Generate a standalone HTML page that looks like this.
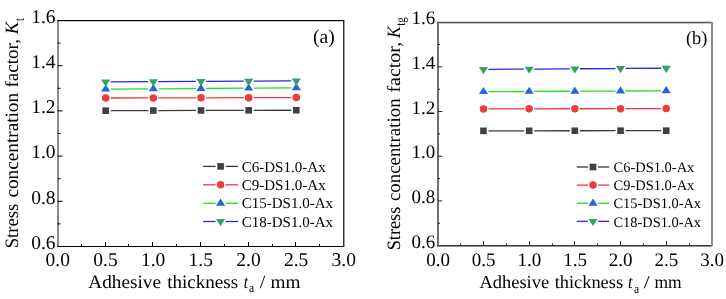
<!DOCTYPE html>
<html><head><meta charset="utf-8"><style>
html,body{margin:0;padding:0;background:#fff;}
body{width:726px;height:299px;overflow:hidden;}
svg{display:block;will-change:transform;}
text{font-family:"Liberation Serif", serif;fill:#000;text-rendering:geometricPrecision;}
</style></head><body>
<svg width="726" height="299" viewBox="0 0 726 299">
<rect width="726" height="299" fill="#fff"/>
<line x1="110.67" y1="110.66" x2="148.33" y2="110.57" stroke="#3a3a3a" stroke-width="1.3"/>
<line x1="158.33" y1="110.55" x2="196.00" y2="110.46" stroke="#3a3a3a" stroke-width="1.3"/>
<line x1="206.00" y1="110.44" x2="243.67" y2="110.35" stroke="#3a3a3a" stroke-width="1.3"/>
<line x1="253.67" y1="110.32" x2="291.33" y2="110.23" stroke="#3a3a3a" stroke-width="1.3"/>
<line x1="110.67" y1="98.01" x2="148.33" y2="97.92" stroke="#f03a3a" stroke-width="1.3"/>
<line x1="158.33" y1="97.89" x2="196.00" y2="97.80" stroke="#f03a3a" stroke-width="1.3"/>
<line x1="206.00" y1="97.78" x2="243.67" y2="97.69" stroke="#f03a3a" stroke-width="1.3"/>
<line x1="253.67" y1="97.67" x2="291.33" y2="97.58" stroke="#f03a3a" stroke-width="1.3"/>
<line x1="110.67" y1="89.17" x2="148.33" y2="88.90" stroke="#20e020" stroke-width="1.3"/>
<line x1="158.33" y1="88.83" x2="196.00" y2="88.56" stroke="#20e020" stroke-width="1.3"/>
<line x1="206.00" y1="88.49" x2="243.67" y2="88.22" stroke="#20e020" stroke-width="1.3"/>
<line x1="253.67" y1="88.15" x2="291.33" y2="87.88" stroke="#20e020" stroke-width="1.3"/>
<line x1="110.67" y1="81.94" x2="148.33" y2="81.72" stroke="#2828e8" stroke-width="1.3"/>
<line x1="158.33" y1="81.66" x2="196.00" y2="81.44" stroke="#2828e8" stroke-width="1.3"/>
<line x1="206.00" y1="81.38" x2="243.67" y2="81.15" stroke="#2828e8" stroke-width="1.3"/>
<line x1="253.67" y1="81.09" x2="291.33" y2="80.87" stroke="#2828e8" stroke-width="1.3"/>
<rect x="102.37" y="107.37" width="6.6" height="6.6" fill="#404040"/>
<rect x="150.03" y="107.26" width="6.6" height="6.6" fill="#404040"/>
<rect x="197.70" y="107.15" width="6.6" height="6.6" fill="#404040"/>
<rect x="245.37" y="107.03" width="6.6" height="6.6" fill="#404040"/>
<rect x="293.03" y="106.92" width="6.6" height="6.6" fill="#404040"/>
<circle cx="105.67" cy="98.02" r="3.75" fill="#ee3b3b"/>
<circle cx="153.33" cy="97.91" r="3.75" fill="#ee3b3b"/>
<circle cx="201.00" cy="97.79" r="3.75" fill="#ee3b3b"/>
<circle cx="248.67" cy="97.68" r="3.75" fill="#ee3b3b"/>
<circle cx="296.33" cy="97.57" r="3.75" fill="#ee3b3b"/>
<polygon points="101.07,91.60 110.27,91.60 105.67,84.40" fill="#2464dc"/>
<polygon points="148.73,91.26 157.93,91.26 153.33,84.06" fill="#2464dc"/>
<polygon points="196.40,90.93 205.60,90.93 201.00,83.73" fill="#2464dc"/>
<polygon points="244.07,90.59 253.27,90.59 248.67,83.39" fill="#2464dc"/>
<polygon points="291.73,90.25 300.93,90.25 296.33,83.05" fill="#2464dc"/>
<polygon points="101.07,79.57 110.27,79.57 105.67,86.77" fill="#34a066"/>
<polygon points="148.73,79.29 157.93,79.29 153.33,86.49" fill="#34a066"/>
<polygon points="196.40,79.01 205.60,79.01 201.00,86.21" fill="#34a066"/>
<polygon points="244.07,78.72 253.27,78.72 248.67,85.92" fill="#34a066"/>
<polygon points="291.73,78.44 300.93,78.44 296.33,85.64" fill="#34a066"/>
<rect x="57" y="21" width="287" height="1" fill="#d0d0d0"/><rect x="344" y="20" width="1" height="227" fill="#a0a0a0"/>
<rect x="57" y="20" width="2" height="227" fill="#8a8a8a"/>
<rect x="57" y="20" width="287" height="1" fill="#000"/>
<rect x="57" y="246" width="287" height="1" fill="#000"/>
<rect x="343" y="20" width="1" height="227" fill="#303030"/>
<rect x="81" y="244.00" width="1" height="2.50" fill="#000"/>
<rect x="105" y="242.00" width="1" height="4.50" fill="#000"/>
<rect x="128" y="244.00" width="1" height="2.50" fill="#000"/>
<rect x="152" y="242.00" width="1" height="4.50" fill="#000"/>
<rect x="176" y="244.00" width="1" height="2.50" fill="#000"/>
<rect x="200" y="242.00" width="1" height="4.50" fill="#000"/>
<rect x="224" y="244.00" width="1" height="2.50" fill="#000"/>
<rect x="248" y="242.00" width="1" height="4.50" fill="#000"/>
<rect x="272" y="244.00" width="1" height="2.50" fill="#000"/>
<rect x="295" y="242.00" width="1" height="4.50" fill="#000"/>
<rect x="319" y="244.00" width="1" height="2.50" fill="#000"/>
<rect x="57.50" y="223.40" width="3.00" height="1" fill="#000"/>
<rect x="57.50" y="200.80" width="5.20" height="1" fill="#000"/>
<rect x="57.50" y="178.20" width="3.00" height="1" fill="#000"/>
<rect x="57.50" y="155.60" width="5.20" height="1" fill="#000"/>
<rect x="57.50" y="133.00" width="3.00" height="1" fill="#000"/>
<rect x="57.50" y="110.40" width="5.20" height="1" fill="#000"/>
<rect x="57.50" y="87.80" width="3.00" height="1" fill="#000"/>
<rect x="57.50" y="65.20" width="5.20" height="1" fill="#000"/>
<rect x="57.50" y="42.60" width="3.00" height="1" fill="#000"/>
<text x="57.80" y="266.3" font-size="19.5" text-anchor="middle">0.0</text>
<text x="105.47" y="266.3" font-size="19.5" text-anchor="middle">0.5</text>
<text x="153.13" y="266.3" font-size="19.5" text-anchor="middle">1.0</text>
<text x="200.80" y="266.3" font-size="19.5" text-anchor="middle">1.5</text>
<text x="248.47" y="266.3" font-size="19.5" text-anchor="middle">2.0</text>
<text x="296.13" y="266.3" font-size="19.5" text-anchor="middle">2.5</text>
<text x="343.80" y="266.3" font-size="19.5" text-anchor="middle">3.0</text>
<text x="55.6" y="248.80" font-size="19.5" text-anchor="end">0.6</text>
<text x="55.6" y="203.60" font-size="19.5" text-anchor="end">0.8</text>
<text x="55.6" y="158.40" font-size="19.5" text-anchor="end">1.0</text>
<text x="55.6" y="113.20" font-size="19.5" text-anchor="end">1.2</text>
<text x="55.6" y="68.00" font-size="19.5" text-anchor="end">1.4</text>
<text x="55.6" y="22.80" font-size="19.5" text-anchor="end">1.6</text>
<line x1="203.1" y1="166.4" x2="215.6" y2="166.4" stroke="#3a3a3a" stroke-width="1.3"/>
<line x1="225.6" y1="166.4" x2="238" y2="166.4" stroke="#3a3a3a" stroke-width="1.3"/>
<rect x="217.30" y="163.10" width="6.6" height="6.6" fill="#404040"/>
<line x1="203.1" y1="184.8" x2="215.6" y2="184.8" stroke="#f03a3a" stroke-width="1.3"/>
<line x1="225.6" y1="184.8" x2="238" y2="184.8" stroke="#f03a3a" stroke-width="1.3"/>
<circle cx="220.60" cy="184.80" r="3.75" fill="#ee3b3b"/>
<line x1="203.1" y1="203.3" x2="215.6" y2="203.3" stroke="#20e020" stroke-width="1.3"/>
<line x1="225.6" y1="203.3" x2="238" y2="203.3" stroke="#20e020" stroke-width="1.3"/>
<polygon points="216.00,205.70 225.20,205.70 220.60,198.50" fill="#2464dc"/>
<line x1="203.1" y1="221.5" x2="215.6" y2="221.5" stroke="#2828e8" stroke-width="1.3"/>
<line x1="225.6" y1="221.5" x2="238" y2="221.5" stroke="#2828e8" stroke-width="1.3"/>
<polygon points="216.00,219.10 225.20,219.10 220.60,226.30" fill="#34a066"/>
<line x1="488.48" y1="130.83" x2="524.17" y2="130.80" stroke="#3a3a3a" stroke-width="1.3"/>
<line x1="534.17" y1="130.79" x2="569.85" y2="130.75" stroke="#3a3a3a" stroke-width="1.3"/>
<line x1="579.85" y1="130.75" x2="615.53" y2="130.71" stroke="#3a3a3a" stroke-width="1.3"/>
<line x1="625.53" y1="130.70" x2="661.22" y2="130.67" stroke="#3a3a3a" stroke-width="1.3"/>
<line x1="488.48" y1="108.94" x2="524.17" y2="108.86" stroke="#f03a3a" stroke-width="1.3"/>
<line x1="534.17" y1="108.83" x2="569.85" y2="108.76" stroke="#f03a3a" stroke-width="1.3"/>
<line x1="579.85" y1="108.73" x2="615.53" y2="108.66" stroke="#f03a3a" stroke-width="1.3"/>
<line x1="625.53" y1="108.63" x2="661.22" y2="108.56" stroke="#f03a3a" stroke-width="1.3"/>
<line x1="488.48" y1="91.65" x2="524.17" y2="91.48" stroke="#20e020" stroke-width="1.3"/>
<line x1="534.17" y1="91.43" x2="569.85" y2="91.26" stroke="#20e020" stroke-width="1.3"/>
<line x1="579.85" y1="91.21" x2="615.53" y2="91.03" stroke="#20e020" stroke-width="1.3"/>
<line x1="625.53" y1="90.98" x2="661.22" y2="90.81" stroke="#20e020" stroke-width="1.3"/>
<line x1="488.48" y1="69.31" x2="524.17" y2="69.09" stroke="#2828e8" stroke-width="1.3"/>
<line x1="534.17" y1="69.03" x2="569.85" y2="68.81" stroke="#2828e8" stroke-width="1.3"/>
<line x1="579.85" y1="68.75" x2="615.53" y2="68.53" stroke="#2828e8" stroke-width="1.3"/>
<line x1="625.53" y1="68.47" x2="661.22" y2="68.25" stroke="#2828e8" stroke-width="1.3"/>
<rect x="480.18" y="127.54" width="6.6" height="6.6" fill="#404040"/>
<rect x="525.87" y="127.49" width="6.6" height="6.6" fill="#404040"/>
<rect x="571.55" y="127.45" width="6.6" height="6.6" fill="#404040"/>
<rect x="617.23" y="127.41" width="6.6" height="6.6" fill="#404040"/>
<rect x="662.92" y="127.36" width="6.6" height="6.6" fill="#404040"/>
<circle cx="483.48" cy="108.95" r="3.75" fill="#ee3b3b"/>
<circle cx="529.17" cy="108.85" r="3.75" fill="#ee3b3b"/>
<circle cx="574.85" cy="108.75" r="3.75" fill="#ee3b3b"/>
<circle cx="620.53" cy="108.64" r="3.75" fill="#ee3b3b"/>
<circle cx="666.22" cy="108.54" r="3.75" fill="#ee3b3b"/>
<polygon points="478.88,94.08 488.08,94.08 483.48,86.88" fill="#2464dc"/>
<polygon points="524.57,93.85 533.77,93.85 529.17,86.65" fill="#2464dc"/>
<polygon points="570.25,93.63 579.45,93.63 574.85,86.43" fill="#2464dc"/>
<polygon points="615.93,93.41 625.13,93.41 620.53,86.21" fill="#2464dc"/>
<polygon points="661.62,93.18 670.82,93.18 666.22,85.98" fill="#2464dc"/>
<polygon points="478.88,66.94 488.08,66.94 483.48,74.14" fill="#34a066"/>
<polygon points="524.57,66.66 533.77,66.66 529.17,73.86" fill="#34a066"/>
<polygon points="570.25,66.38 579.45,66.38 574.85,73.58" fill="#34a066"/>
<polygon points="615.93,66.10 625.13,66.10 620.53,73.30" fill="#34a066"/>
<polygon points="661.62,65.82 670.82,65.82 666.22,73.02" fill="#34a066"/>
<rect x="437" y="21" width="275" height="1" fill="#d8d8d8"/><rect x="437" y="23" width="275" height="1" fill="#c8c8c8"/><rect x="437" y="246" width="275" height="1" fill="#909090"/>
<rect x="437" y="22" width="2" height="224" fill="#707070"/>
<rect x="437" y="22" width="275" height="1" fill="#555"/>
<rect x="437" y="245" width="275" height="1" fill="#404040"/>
<rect x="711" y="22" width="2" height="224" fill="#8a8a8a"/>
<rect x="460" y="243.40" width="1" height="2.20" fill="#222"/>
<rect x="483" y="241.10" width="1" height="4.50" fill="#222"/>
<rect x="506" y="243.40" width="1" height="2.20" fill="#222"/>
<rect x="529" y="241.10" width="1" height="4.50" fill="#222"/>
<rect x="552" y="243.40" width="1" height="2.20" fill="#222"/>
<rect x="574" y="241.10" width="1" height="4.50" fill="#222"/>
<rect x="597" y="243.40" width="1" height="2.20" fill="#222"/>
<rect x="620" y="241.10" width="1" height="4.50" fill="#222"/>
<rect x="643" y="243.40" width="1" height="2.20" fill="#222"/>
<rect x="666" y="241.10" width="1" height="4.50" fill="#222"/>
<rect x="689" y="243.40" width="1" height="2.20" fill="#222"/>
<rect x="437.80" y="222.76" width="2.20" height="1" fill="#222"/>
<rect x="437.80" y="200.42" width="4.50" height="1" fill="#222"/>
<rect x="437.80" y="178.08" width="2.20" height="1" fill="#222"/>
<rect x="437.80" y="155.74" width="4.50" height="1" fill="#222"/>
<rect x="437.80" y="133.40" width="2.20" height="1" fill="#222"/>
<rect x="437.80" y="111.06" width="4.50" height="1" fill="#222"/>
<rect x="437.80" y="88.72" width="2.20" height="1" fill="#222"/>
<rect x="437.80" y="66.38" width="4.50" height="1" fill="#222"/>
<rect x="437.80" y="44.04" width="2.20" height="1" fill="#222"/>
<text x="438.00" y="265.9" font-size="19" text-anchor="middle">0.0</text>
<text x="483.68" y="265.9" font-size="19" text-anchor="middle">0.5</text>
<text x="529.37" y="265.9" font-size="19" text-anchor="middle">1.0</text>
<text x="575.05" y="265.9" font-size="19" text-anchor="middle">1.5</text>
<text x="620.73" y="265.9" font-size="19" text-anchor="middle">2.0</text>
<text x="666.42" y="265.9" font-size="19" text-anchor="middle">2.5</text>
<text x="712.10" y="265.9" font-size="19" text-anchor="middle">3.0</text>
<text x="435.3" y="247.80" font-size="19" text-anchor="end">0.6</text>
<text x="435.3" y="203.12" font-size="19" text-anchor="end">0.8</text>
<text x="435.3" y="158.44" font-size="19" text-anchor="end">1.0</text>
<text x="435.3" y="113.76" font-size="19" text-anchor="end">1.2</text>
<text x="435.3" y="69.08" font-size="19" text-anchor="end">1.4</text>
<text x="435.3" y="24.40" font-size="19" text-anchor="end">1.6</text>
<line x1="576.8" y1="167.0" x2="588.0" y2="167.0" stroke="#3a3a3a" stroke-width="1.3"/>
<line x1="598.0" y1="167.0" x2="609.3" y2="167.0" stroke="#3a3a3a" stroke-width="1.3"/>
<rect x="589.70" y="163.70" width="6.6" height="6.6" fill="#404040"/>
<line x1="576.8" y1="185.1" x2="588.0" y2="185.1" stroke="#f03a3a" stroke-width="1.3"/>
<line x1="598.0" y1="185.1" x2="609.3" y2="185.1" stroke="#f03a3a" stroke-width="1.3"/>
<circle cx="593.00" cy="185.10" r="3.75" fill="#ee3b3b"/>
<line x1="576.8" y1="203.3" x2="588.0" y2="203.3" stroke="#20e020" stroke-width="1.3"/>
<line x1="598.0" y1="203.3" x2="609.3" y2="203.3" stroke="#20e020" stroke-width="1.3"/>
<polygon points="588.40,205.70 597.60,205.70 593.00,198.50" fill="#2464dc"/>
<line x1="576.8" y1="221.3" x2="588.0" y2="221.3" stroke="#2828e8" stroke-width="1.3"/>
<line x1="598.0" y1="221.3" x2="609.3" y2="221.3" stroke="#2828e8" stroke-width="1.3"/>
<polygon points="588.40,218.90 597.60,218.90 593.00,226.10" fill="#34a066"/>
<g transform="translate(88.30,287.6) scale(1.0239,1)"><text x="0" y="0" font-size="18.8">Adhesive</text></g>
<g transform="translate(167.20,287.6) scale(1.0143,1)"><text x="0" y="0" font-size="18.8">thickness</text></g>
<g transform="translate(243.70,287.6) scale(0.8000,1)"><text x="0" y="0" font-size="18.8" font-style="italic">t</text></g>
<g transform="translate(249.00,292.3) scale(0.8833,1)"><text x="0" y="0" font-size="13">a</text></g>
<g transform="translate(259.70,287.6) scale(1.0500,1)"><text x="0" y="0" font-size="18.8">/</text></g>
<g transform="translate(270.40,287.6) scale(1.0276,1)"><text x="0" y="0" font-size="18.8">mm</text></g>
<g transform="translate(17.9,248.29) rotate(-90) scale(0.9932,1)"><text x="0" y="0" font-size="18.8">Stress</text></g>
<g transform="translate(17.9,197.60) rotate(-90) scale(1.0245,1)"><text x="0" y="0" font-size="18.8">concentration</text></g>
<g transform="translate(17.9,87.50) rotate(-90) scale(1.0149,1)"><text x="0" y="0" font-size="18.8">factor,</text></g>
<g transform="translate(17.9,34.30) rotate(-90) scale(0.9929,1)"><text x="0" y="0" font-size="18.8" font-style="italic">K</text></g>
<g transform="translate(23.6,21.10) rotate(-90) scale(0.7500,1)"><text x="0" y="0" font-size="14">t</text></g>
<g transform="translate(313.00,42.8) scale(1.0048,1)"><text x="0" y="0" font-size="19.5">(a)</text></g>
<g transform="translate(479.40,288.3) scale(1.0101,1)"><text x="0" y="0" font-size="18.3">Adhesive</text></g>
<g transform="translate(554.70,288.3) scale(1.0044,1)"><text x="0" y="0" font-size="18.3">thickness</text></g>
<g transform="translate(628.12,288.3) scale(0.8800,1)"><text x="0" y="0" font-size="18.3" font-style="italic">t</text></g>
<g transform="translate(633.90,293.2) scale(0.8833,1)"><text x="0" y="0" font-size="13">a</text></g>
<g transform="translate(643.70,288.3) scale(1.1600,1)"><text x="0" y="0" font-size="18.3">/</text></g>
<g transform="translate(654.50,288.3) scale(0.9552,1)"><text x="0" y="0" font-size="18.3">mm</text></g>
<g transform="translate(399.8,250.27) rotate(-90) scale(0.9705,1)"><text x="0" y="0" font-size="18.8">Stress</text></g>
<g transform="translate(399.8,201.10) rotate(-90) scale(1.0049,1)"><text x="0" y="0" font-size="18.8">concentration</text></g>
<g transform="translate(399.8,92.60) rotate(-90) scale(1.0638,1)"><text x="0" y="0" font-size="18.8">factor,</text></g>
<g transform="translate(399.8,38.00) rotate(-90) scale(0.9357,1)"><text x="0" y="0" font-size="18.8" font-style="italic">K</text></g>
<g transform="translate(404.8,25.70) rotate(-90) scale(0.8091,1)"><text x="0" y="0" font-size="13.5">tg</text></g>
<g transform="translate(685.90,43.8) scale(0.9857,1)"><text x="0" y="0" font-size="18.6">(b)</text></g>
<g transform="translate(241.70,171.7) scale(1.0024,1)"><text x="0" y="0" font-size="15">C6-DS1.0-Ax</text></g>
<g transform="translate(241.70,190.0) scale(1.0024,1)"><text x="0" y="0" font-size="15">C9-DS1.0-Ax</text></g>
<g transform="translate(241.70,208.3) scale(1.0011,1)"><text x="0" y="0" font-size="15">C15-DS1.0-Ax</text></g>
<g transform="translate(241.70,226.6) scale(1.0011,1)"><text x="0" y="0" font-size="15">C18-DS1.0-Ax</text></g>
<g transform="translate(613.50,171.8) scale(0.9988,1)"><text x="0" y="0" font-size="14.5">C6-DS1.0-Ax</text></g>
<g transform="translate(613.50,190.3) scale(0.9988,1)"><text x="0" y="0" font-size="14.5">C9-DS1.0-Ax</text></g>
<g transform="translate(613.50,208.2) scale(0.9920,1)"><text x="0" y="0" font-size="14.5">C15-DS1.0-Ax</text></g>
<g transform="translate(613.50,226.7) scale(0.9920,1)"><text x="0" y="0" font-size="14.5">C18-DS1.0-Ax</text></g>
</svg>
</body></html>
